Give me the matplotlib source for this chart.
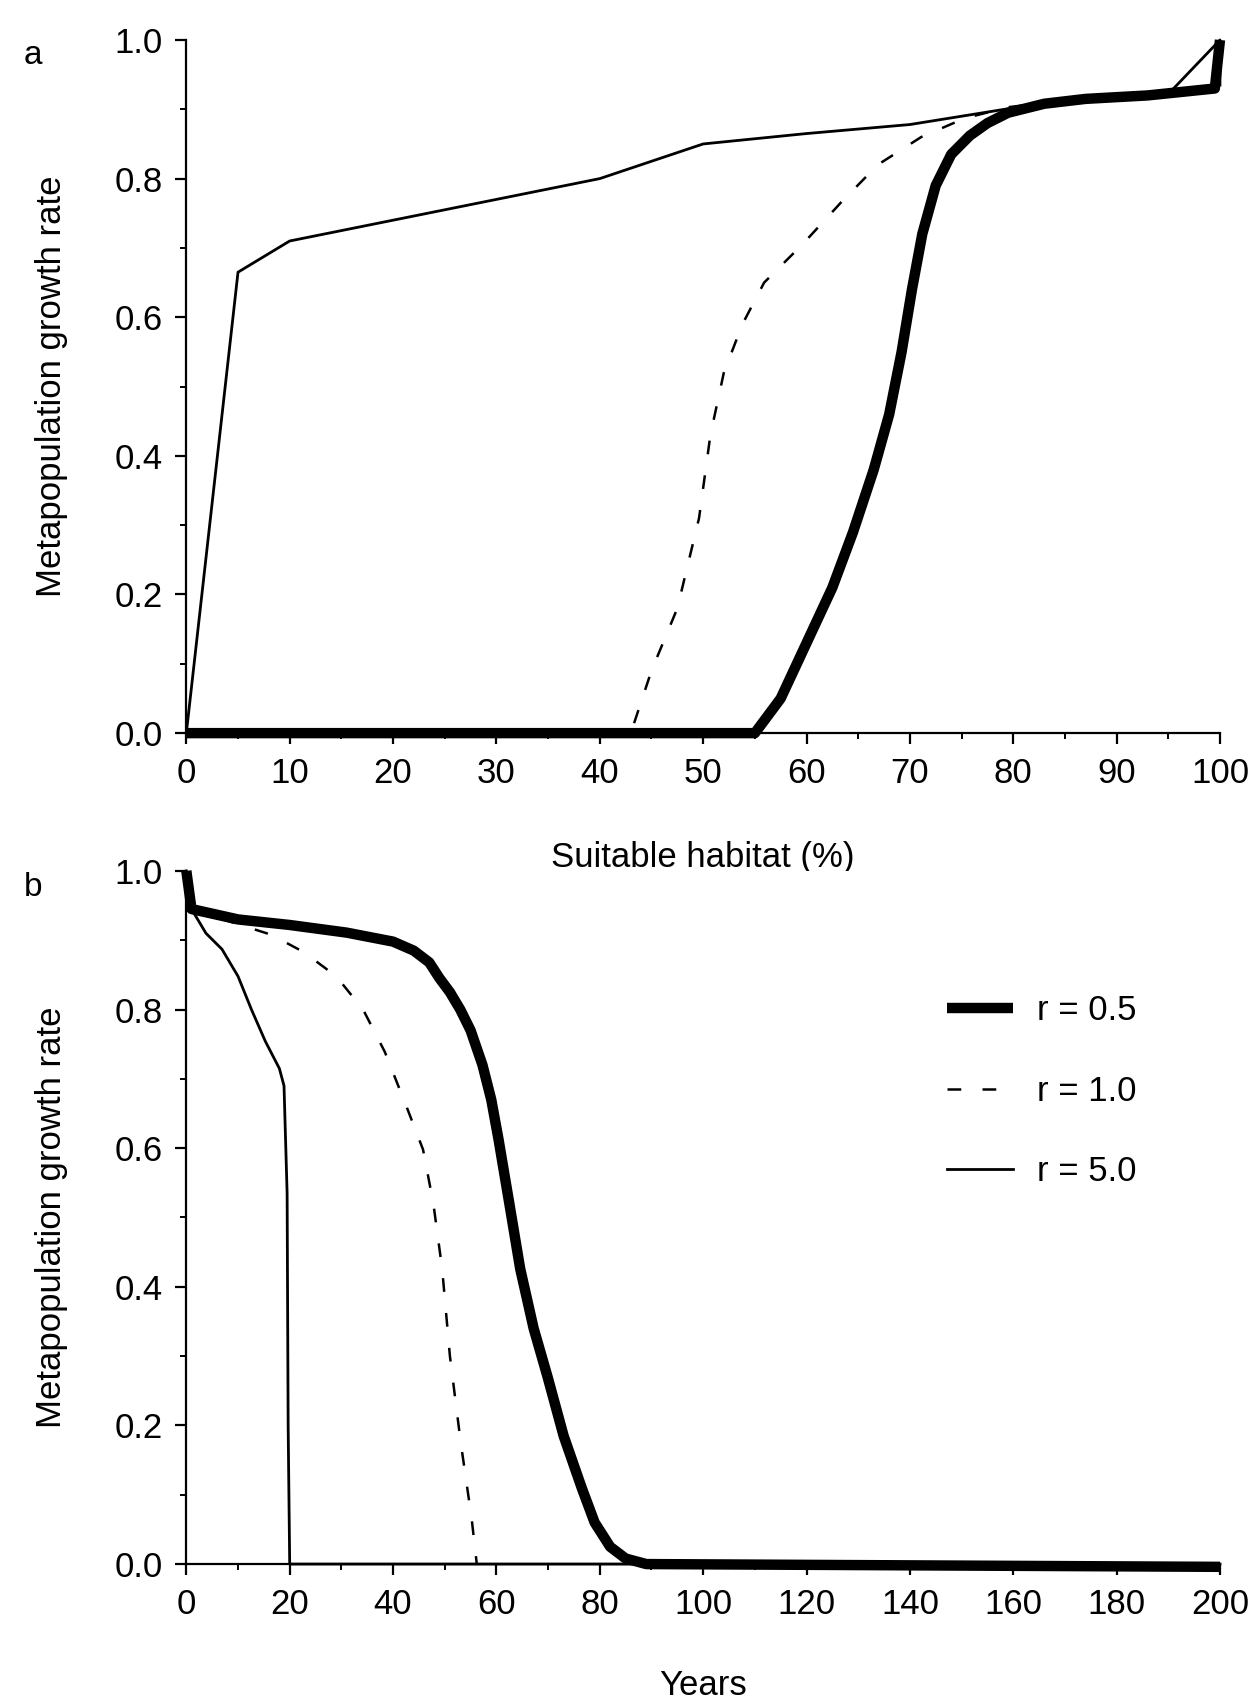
import matplotlib
matplotlib.use("Agg")
import matplotlib.pyplot as plt
from matplotlib.ticker import MultipleLocator

plt.rcParams["font.family"] = ["Liberation Sans", "DejaVu Sans"]

# panel a: growth rate vs suitable habitat (%)
habitat_r05 = [0, 55, 57.5, 60, 62.5, 64.5, 66.5, 68, 69.2, 70.2, 71.2, 72.5, 74, 75.8, 77.5, 79.5, 83, 87, 93, 99.5, 100]
growth_a_r05 = [0, 0, 0.05, 0.13, 0.21, 0.29, 0.38, 0.46, 0.55, 0.64, 0.72, 0.79, 0.835, 0.862, 0.88, 0.895, 0.908, 0.915, 0.92, 0.93, 1.0]

habitat_r10 = [0, 43, 45, 47.5, 49.6, 50.7, 52, 53.8, 55.9, 59.6, 63.3, 66.9, 71.1, 75.3, 79.5, 85, 93, 99.5, 100]
growth_a_r10 = [0, 0, 0.09, 0.18, 0.31, 0.43, 0.52, 0.59, 0.65, 0.705, 0.765, 0.82, 0.86, 0.887, 0.903, 0.913, 0.92, 0.93, 1.0]

habitat_r50 = [0, 5, 10, 20, 30, 40, 50, 60, 70, 80, 90, 95, 100, 100]
growth_a_r50 = [0, 0.665, 0.71, 0.74, 0.77, 0.80, 0.85, 0.865, 0.878, 0.902, 0.915, 0.922, 1.0, 0.935]

# panel b: growth rate vs years
years_r05 = [0, 1, 10, 20, 31, 40, 44, 47, 49, 51, 53, 55, 57.3, 59, 60.4, 62.5, 64.6, 67.2, 69.9, 73, 76.5, 79, 82, 85, 89, 200]
growth_b_r05 = [1.0, 0.945, 0.93, 0.922, 0.911, 0.898, 0.885, 0.868, 0.845, 0.825, 0.80, 0.77, 0.72, 0.67, 0.613, 0.52, 0.426, 0.34, 0.27, 0.185, 0.11, 0.06, 0.025, 0.008, 0, -0.004]

years_r10 = [0, 1, 8, 16.4, 22.7, 29, 34.2, 38.4, 42.6, 45.8, 47.8, 49.5, 51, 53.1, 55.2, 56.2]
growth_b_r10 = [1.0, 0.945, 0.928, 0.908, 0.883, 0.848, 0.80, 0.739, 0.66, 0.598, 0.52, 0.426, 0.30, 0.175, 0.066, 0]

years_r50 = [0, 1, 3.8, 6.9, 10, 12.6, 15.3, 18, 18.9, 19.5, 19.7, 20, 200]
growth_b_r50 = [1.0, 0.945, 0.91, 0.887, 0.848, 0.80, 0.754, 0.715, 0.69, 0.535, 0.2, 0, 0]

labels = ["r = 0.5", "r = 1.0", "r = 5.0"]
ylabel = "Metapopulation growth rate"

styles = [
    dict(color="black", lw=7.5, solid_capstyle="butt"),
    dict(color="black", lw=1.8, linestyle=(0, (5.5, 8.5))),
    dict(color="black", lw=2.0),
]

fig = plt.figure(figsize=(12.59, 17.01), dpi=100)
ax_a = fig.add_axes([0.148, 0.569, 0.821, 0.4075])
ax_b = fig.add_axes([0.148, 0.0805, 0.821, 0.4075])


def style_axes(ax, xmax, xmajor, xminor):
    ax.set_xlim(0, xmax)
    ax.set_ylim(0, 1.0)
    ax.spines["top"].set_visible(False)
    ax.spines["right"].set_visible(False)
    for s in ("left", "bottom"):
        ax.spines[s].set_linewidth(1.6)
    ax.xaxis.set_major_locator(MultipleLocator(xmajor))
    ax.xaxis.set_minor_locator(MultipleLocator(xminor))
    ax.yaxis.set_major_locator(MultipleLocator(0.2))
    ax.yaxis.set_minor_locator(MultipleLocator(0.1))
    ax.yaxis.set_major_formatter(lambda v, p: f"{v:.1f}")
    ax.tick_params(which="major", direction="out", length=8, width=1.6, labelsize=25, pad=9)
    ax.tick_params(which="minor", direction="out", length=4, width=1.4)
    ax.set_ylabel(ylabel, fontsize=25)
    ax.yaxis.set_label_coords(-0.114, 0.5)


series_a = [(habitat_r05, growth_a_r05), (habitat_r10, growth_a_r10), (habitat_r50, growth_a_r50)]
for (x, y), st in zip(series_a, styles):
    ax_a.plot(x, y, clip_on=False, **st)
style_axes(ax_a, 100, 10, 5)
ax_a.set_xlabel("Suitable habitat (%)", fontsize=25)
ax_a.xaxis.set_label_coords(0.5, -0.155)

series_b = [(years_r05, growth_b_r05), (years_r10, growth_b_r10), (years_r50, growth_b_r50)]
for (x, y), st, lab in zip(series_b, styles, labels):
    ax_b.plot(x, y, clip_on=False, label=lab, **st)
style_axes(ax_b, 200, 20, 10)
ax_b.set_xlabel("Years", fontsize=25)
ax_b.xaxis.set_label_coords(0.5, -0.151)

ax_b.legend(loc="center left", bbox_to_anchor=(0.736, 0.682), frameon=False,
            fontsize=25, handlelength=1.9, handletextpad=0.7, labelspacing=1.37,
            borderaxespad=0, borderpad=0)

fig.text(0.019, 0.9625, "a", fontsize=24, va="baseline")
fig.text(0.019, 0.4732, "b", fontsize=24, va="baseline")

fig.savefig("out.png", dpi=100)
